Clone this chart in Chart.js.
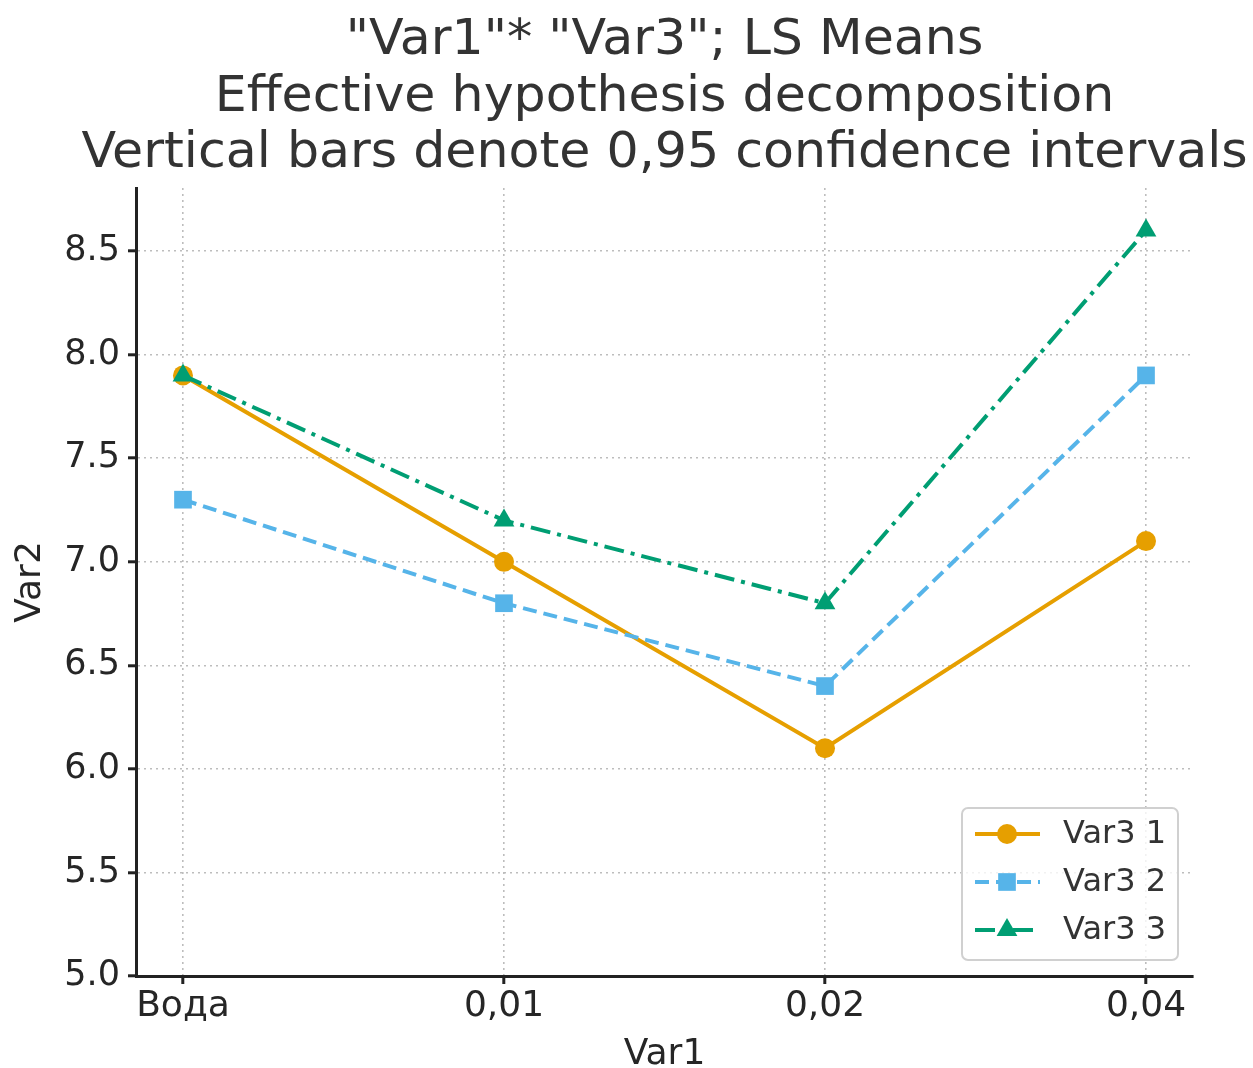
<!DOCTYPE html>
<html>
<head>
<meta charset="utf-8">
<script src="https://cdn.jsdelivr.net/npm/chart.js@4"></script>
<style>
  body { margin: 0; background: #ffffff; }
  #wrap { width: 1253px; height: 1068px; }
</style>
</head>
<body>
<div id="wrap"><canvas id="grafica"></canvas></div>
<script>
// datos
const categorias = ['Вода', '0,01', '0,02', '0,04'];
const var3_1 = [7.9, 7.0, 6.1, 7.1];
const var3_2 = [7.3, 6.8, 6.4, 7.9];
const var3_3 = [7.9, 7.2, 6.8, 8.6];
const ticksY = [5.0, 5.5, 6.0, 6.5, 7.0, 7.5, 8.0, 8.5];
const tituloLineas = ['"Var1"* "Var3"; LS Means', 'Effective hypothesis decomposition', 'Vertical bars denote 0,95 confidence intervals'];

const FUENTE = 'DejaVu Sans';
const TEXTO = '#262626';

const estilos = [
  { label: 'Var3 1', data: var3_1, color: '#E69F00', dash: [], punto: 'circle', radio: 10 },
  { label: 'Var3 2', data: var3_2, color: '#56B4E9', dash: [14, 7], punto: 'rect', radio: 12.5 },
  { label: 'Var3 3', data: var3_3, color: '#009E73', dash: [20, 7, 4, 7], punto: 'triangle', radio: 12 }
];

// título centrado sobre el área de la gráfica (sin recortar la línea larga)
const tituloCentrado = {
  id: 'tituloCentrado',
  afterDraw(chart) {
    const ctx = chart.ctx;
    const area = chart.chartArea;
    const cx = (area.left + area.right) / 2;
    ctx.save();
    ctx.fillStyle = '#333333';
    ctx.font = '50.6px "' + FUENTE + '"';
    ctx.textAlign = 'center';
    ctx.textBaseline = 'middle';
    tituloLineas.forEach((t, i) => ctx.fillText(t, cx, 41 + i * 56.5));
    ctx.restore();
  }
};

// leyenda dentro del área de la gráfica (abajo a la derecha)
const leyendaInterna = {
  id: 'leyendaInterna',
  afterDatasetsDraw(chart) {
    const ctx = chart.ctx;
    const area = chart.chartArea;
    const w = 216, h = 152;
    const x0 = area.right - 15 - w;
    const y0 = area.bottom - 16 - h;
    ctx.save();
    ctx.beginPath();
    ctx.roundRect(x0, y0, w, h, 6);
    ctx.fillStyle = 'rgba(255,255,255,0.8)';
    ctx.fill();
    ctx.lineWidth = 2;
    ctx.strokeStyle = '#d0d0d0';
    ctx.stroke();

    estilos.forEach((s, i) => {
      const y = y0 + 26 + i * 48;
      ctx.beginPath();
      ctx.setLineDash(s.dash);
      ctx.strokeStyle = s.color;
      ctx.lineWidth = 4;
      ctx.moveTo(x0 + 13, y);
      ctx.lineTo(x0 + 78, y);
      ctx.stroke();
      ctx.setLineDash([]);
      dibujarMarcador(ctx, s.punto, x0 + 45, y, s.radio, s.color);
      ctx.fillStyle = '#333333';
      ctx.font = '32px "' + FUENTE + '"';
      ctx.textBaseline = 'middle';
      ctx.textAlign = 'left';
      ctx.fillText(s.label, x0 + 101, y + 1);
    });
    ctx.restore();
  }
};

function dibujarMarcador(ctx, tipo, x, y, r, color) {
  ctx.fillStyle = color;
  ctx.beginPath();
  if (tipo === 'circle') {
    ctx.arc(x, y, r, 0, Math.PI * 2);
  } else if (tipo === 'rect') {
    const s = r / Math.SQRT2;
    ctx.rect(x - s, y - s, 2 * s, 2 * s);
  } else {
    ctx.moveTo(x, y - r);
    ctx.lineTo(x + r * Math.sin(Math.PI * 2 / 3), y - r * Math.cos(Math.PI * 2 / 3));
    ctx.lineTo(x + r * Math.sin(Math.PI * 4 / 3), y - r * Math.cos(Math.PI * 4 / 3));
    ctx.closePath();
  }
  ctx.fill();
}

const datasets = estilos.map((s, i) => ({
  label: s.label,
  data: s.data.map((v, k) => ({ x: k, y: v })),
  borderColor: s.color,
  backgroundColor: s.color,
  borderWidth: 4,
  borderDash: s.dash,
  pointStyle: s.punto,
  pointRadius: s.radio,
  pointHoverRadius: s.radio,
  pointBorderWidth: 0,
  tension: 0,
  fill: false,
  order: estilos.length - i
}));

const rejilla = {
  color: 'rgba(185,185,185,0.95)',
  lineWidth: 1.6,
  tickColor: '#222222',
  tickWidth: 3,
  tickLength: 8,
  tickBorderDash: []
};

new Chart(document.getElementById('grafica'), {
  type: 'line',
  data: { datasets: datasets },
  plugins: [leyendaInterna, tituloCentrado],
  options: {
    responsive: true,
    maintainAspectRatio: false,
    animation: false,
    layout: { padding: { left: 0, right: 60, top: 188, bottom: 0 } },
    plugins: {
      legend: { display: false },
      tooltip: { enabled: false },
      title: { display: false }
    },
    scales: {
      x: {
        type: 'linear',
        min: -0.1464,
        max: 3.1464,
        afterBuildTicks: (scale) => { scale.ticks = categorias.map((_, i) => ({ value: i })); },
        afterFit: (scale) => { scale.height = 92; },
        grid: rejilla,
        border: { display: true, color: '#222222', width: 3, dash: [2, 4] },
        ticks: {
          color: TEXTO,
          font: { family: FUENTE, size: 36 },
          padding: 1,
          maxRotation: 0,
          autoSkip: false,
          callback: (v) => categorias[v]
        },
        title: {
          display: true,
          text: 'Var1',
          color: TEXTO,
          font: { family: FUENTE, size: 36, lineHeight: 0.75 },
          padding: { top: 0, bottom: 0 }
        }
      },
      y: {
        min: 5.0,
        max: 8.805,
        afterBuildTicks: (scale) => { scale.ticks = ticksY.map((v) => ({ value: v })); },
        afterFit: (scale) => { scale.width = 136; },
        grid: rejilla,
        border: { display: true, color: '#222222', width: 3, dash: [2, 4] },
        ticks: {
          color: TEXTO,
          font: { family: FUENTE, size: 35 },
          padding: 8,
          callback: (v) => Number(v).toFixed(1)
        },
        title: {
          display: true,
          text: 'Var2',
          color: TEXTO,
          font: { family: FUENTE, size: 36, lineHeight: 1.0 },
          padding: { top: 13, bottom: 0 }
        }
      }
    }
  }
});
</script>
</body>
</html>
